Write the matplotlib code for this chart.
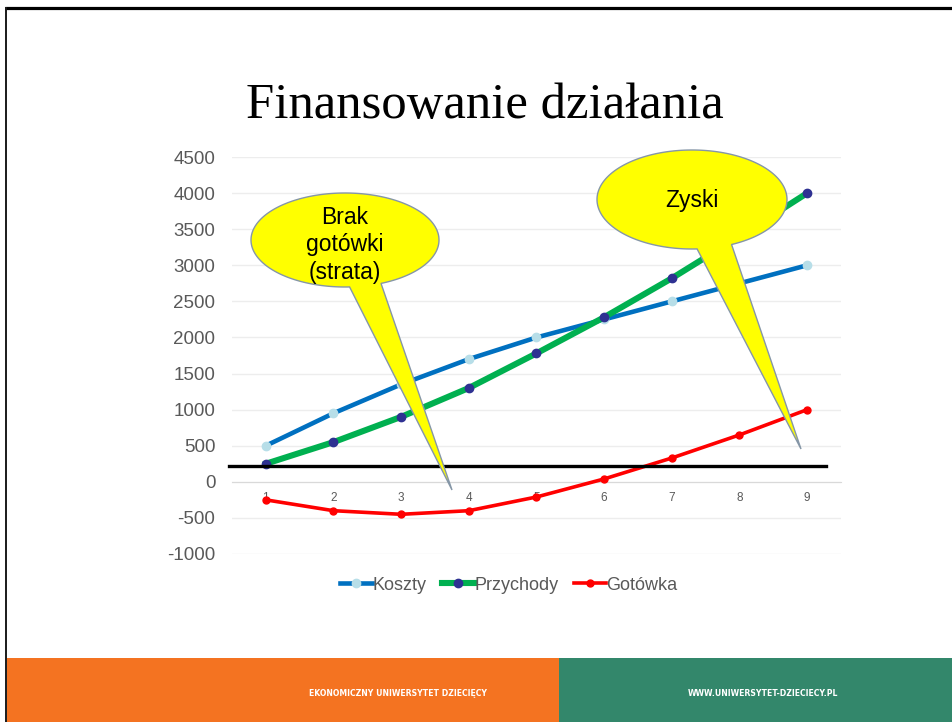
import numpy as np
import matplotlib
matplotlib.use('Agg')
import matplotlib.pyplot as plt
from matplotlib.patches import Polygon, Rectangle

plt.rcParams['axes.unicode_minus'] = False

# DANE
okresy = [1, 2, 3, 4, 5, 6, 7, 8, 9]
koszty = [500, 950, 1350, 1700, 2000, 2250, 2500, 2750, 3000]
przychody = [250, 550, 900, 1300, 1780, 2280, 2820, 3400, 4000]
gotowka = [-250, -400, -450, -400, -210, 40, 330, 650, 1000]
y_ticks = [-1000, -500, 0, 500, 1000, 1500, 2000, 2500, 3000, 3500, 4000, 4500]
prog = 220  # czarna linia pozioma

W, H = 953, 722
fig = plt.figure(figsize=(W / 100, H / 100), dpi=100)
fig.patch.set_facecolor('white')

# WYKRES
ax = fig.add_axes([232 / W, (H - 554) / H, 609 / W, 397 / H])
ax.set_facecolor('none')
ax.plot(okresy, koszty, color='#0070C0', lw=3.3, marker='o', ms=6,
        mfc='#B7DEE8', mec='#B7DEE8', label='Koszty', zorder=3)
ax.plot(okresy, przychody, color='#00B050', lw=4.4, marker='o', ms=6,
        mfc='#2E3192', mec='#2E3192', label='Przychody', zorder=3)
ax.plot(okresy, gotowka, color='#FF0000', lw=2.6, marker='o', ms=5,
        mfc='#FF0000', mec='#FF0000', label='Gotówka', zorder=3)
ax.axhline(prog, xmin=-0.005, xmax=0.975, color='black', lw=2.4, zorder=4, clip_on=False)

ax.set_xlim(0.5, 9.5)
ax.set_ylim(-1000, 4500)
ax.set_yticks(y_ticks)
ax.set_xticks(okresy)
ax.grid(axis='y', color='#EDEDED', lw=1)
ax.set_axisbelow(True)
for s in ['top', 'right', 'left']:
    ax.spines[s].set_visible(False)
ax.spines['bottom'].set_position(('data', 0))
ax.spines['bottom'].set_color('#D9D9D9')
ax.tick_params(axis='y', length=0, pad=12, labelsize=13.5, labelcolor='#595959')
ax.tick_params(axis='x', length=0, pad=7, labelsize=8.5, labelcolor='#595959')
for t in ax.get_yticklabels() + ax.get_xticklabels():
    t.set_fontfamily('Liberation Sans')

leg = ax.legend(loc='center', bbox_to_anchor=(509 / W, (H - 585) / H),
                bbox_transform=fig.transFigure, ncol=3, frameon=False,
                handlelength=1.75, handletextpad=0.05, columnspacing=0.85,
                prop={'family': 'Liberation Sans', 'size': 13})
for t in leg.get_texts():
    t.set_color('#595959')

# TYTUL
fig.text(485 / W, 1 - 118 / H, 'Finansowanie działania', ha='center', va='baseline',
         family='Liberation Serif', fontsize=36.5, color='black')

# WARSTWA OZDOBNA (ramka, stopka, dymki) W PIKSELACH
deco = fig.add_axes([0, 0, 1, 1], zorder=5)
deco.set_xlim(0, W)
deco.set_ylim(H, 0)
deco.axis('off')
deco.patch.set_alpha(0)

deco.plot([5, W], [8.2, 8.2], color='black', lw=2.3, solid_capstyle='butt')
deco.plot([6.5, 6.5], [7, H], color='#1a1a1a', lw=1.4, solid_capstyle='butt')

deco.add_patch(Rectangle((7.5, 658), 559 - 7.5, H - 658, color='#F47321', lw=0))
deco.add_patch(Rectangle((559, 658), W - 559, H - 658, color='#33876B', lw=0))
deco.text(398, 693, 'EKONOMICZNY UNIWERSYTET DZIECIĘCY', ha='center', va='center',
          color='white', fontsize=5.6, fontweight='bold', family='DejaVu Sans')
deco.text(763, 693, 'WWW.UNIWERSYTET-DZIECIECY.PL', ha='center', va='center',
          color='white', fontsize=5.6, fontweight='bold', family='DejaVu Sans')


def dymek(cx, cy, a, b, lewy, prawy, czubek):
    # ELIPSA Z OGONEM JAKO JEDEN KSZTALT
    t1 = np.arctan2((lewy[1] - cy) / b, (lewy[0] - cx) / a)
    t2 = np.arctan2((prawy[1] - cy) / b, (prawy[0] - cx) / a)
    if t2 < t1:
        t2 += 2 * np.pi
    t = np.linspace(t1, t2, 200)
    pts = np.column_stack([cx + a * np.cos(t), cy + b * np.sin(t)])
    pts = np.vstack([pts, czubek])
    deco.add_patch(Polygon(pts, closed=True, facecolor='#FFFF00', edgecolor='#8596A8', lw=1.0))


dymek(345, 240, 94, 47, (350, 291), (384, 287), (452, 490))
dymek(692, 199.5, 95, 49.5, (697, 248), (732, 245), (801, 449))

deco.text(345, 245, 'Brak\ngotówki\n(strata)', ha='center', va='center', fontsize=16.5,
          family='Liberation Sans', linespacing=1.25)
deco.text(692, 200, 'Zyski', ha='center', va='center', fontsize=16.5, family='Liberation Sans')

fig.savefig('out.png', dpi=100)
